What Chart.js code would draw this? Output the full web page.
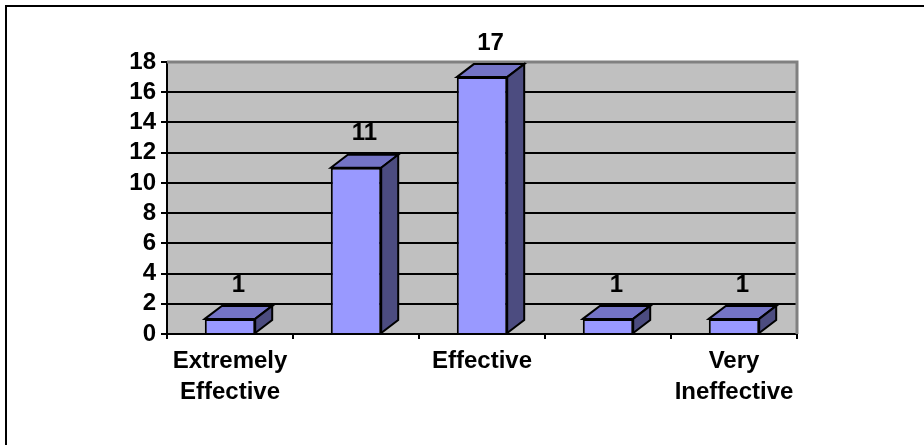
<!DOCTYPE html>
<html>
<head>
<meta charset="utf-8">
<script src="https://cdn.jsdelivr.net/npm/chart.js@4/dist/chart.umd.min.js"></script>
<style>
  html, body { margin: 0; padding: 0; background: #ffffff; }
  #wrap { width: 924px; height: 445px; position: relative; }
</style>
</head>
<body>
<div id="wrap"><canvas id="c" width="924" height="445"></canvas></div>
<script>
// ---- data ----
const categories = ['Extremely Effective', 'Very Effective', 'Effective', 'Ineffective', 'Very Ineffective'];
const responses = [1, 11, 17, 1, 1];
const yTicks = [0, 2, 4, 6, 8, 10, 12, 14, 16, 18];
const labelInterval = 2; // every other category label shown, as in the original

const FONT = { family: '"Liberation Sans", Arial, sans-serif', size: 24, weight: 'bold', lineHeight: 1.3 };
const DEPTH_X = 17, DEPTH_Y = 13;

const framePlugin = {
  id: 'frame',
  beforeDraw(chart) {
    const ctx = chart.ctx, a = chart.chartArea;
    ctx.save();
    ctx.fillStyle = '#ffffff';
    ctx.fillRect(0, 0, chart.width, chart.height);
    ctx.fillStyle = '#000000';
    ctx.fillRect(5, 5, 2, chart.height - 5);
    ctx.fillRect(5, 5, chart.width - 5, 2);
    ctx.fillStyle = '#C0C0C0';
    ctx.fillRect(a.left, a.top, a.right - a.left, a.bottom - a.top);
    ctx.restore();
  },
  beforeDatasetsDraw(chart) {
    const ctx = chart.ctx, a = chart.chartArea;
    ctx.save();
    ctx.strokeStyle = '#808080';
    ctx.lineWidth = 3;
    ctx.beginPath();
    ctx.moveTo(a.left, a.top);
    ctx.lineTo(a.right, a.top);
    ctx.lineTo(a.right, a.bottom);
    ctx.stroke();
    ctx.restore();
  },
  afterDatasetsDraw(chart) {
    const ctx = chart.ctx;
    const meta = chart.getDatasetMeta(0);
    ctx.save();
    ctx.lineWidth = 2;
    ctx.strokeStyle = '#000000';
    ctx.lineJoin = 'miter';
    meta.data.forEach((bar, i) => {
      const p = bar.getProps(['x', 'y', 'base', 'width'], true);
      const l = p.x - p.width / 2, r = p.x + p.width / 2, t = p.y, b = p.base;
      // top face
      ctx.beginPath();
      ctx.moveTo(l, t);
      ctx.lineTo(l + DEPTH_X, t - DEPTH_Y);
      ctx.lineTo(r + DEPTH_X, t - DEPTH_Y);
      ctx.lineTo(r, t);
      ctx.closePath();
      ctx.fillStyle = '#7474C6';
      ctx.fill();
      ctx.stroke();
      // side face
      ctx.beginPath();
      ctx.moveTo(r, t);
      ctx.lineTo(r + DEPTH_X, t - DEPTH_Y);
      ctx.lineTo(r + DEPTH_X, b - DEPTH_Y);
      ctx.lineTo(r, b);
      ctx.closePath();
      ctx.fillStyle = '#4C4C80';
      ctx.fill();
      ctx.stroke();
      // value label
      ctx.fillStyle = '#000000';
      ctx.font = 'bold ' + FONT.size + 'px ' + FONT.family;
      ctx.textAlign = 'center';
      ctx.textBaseline = 'middle';
      ctx.fillText(String(responses[i]), p.x + DEPTH_X / 2, t - DEPTH_Y - 21);
    });
    ctx.restore();
  }
};

new Chart(document.getElementById('c'), {
  type: 'bar',
  data: {
    labels: categories,
    datasets: [{
      data: responses,
      backgroundColor: '#9999FF',
      borderColor: '#000000',
      borderWidth: 2,
      barPercentage: 0.4,
      categoryPercentage: 1.0
    }]
  },
  options: {
    responsive: false,
    animation: false,
    events: [],
    layout: { padding: { left: 0, right: 127, top: 62, bottom: 0 } },
    plugins: { legend: { display: false }, tooltip: { enabled: false }, title: { display: false } },
    scales: {
      x: {
        offset: true,
        afterFit(s) { s.height = 111; },
        grid: { offset: true, drawOnChartArea: false, drawTicks: true, tickLength: 5, color: '#000000', lineWidth: 2 },
        border: { display: true, color: '#000000', width: 2 },
        ticks: {
          autoSkip: false, maxRotation: 0, minRotation: 0, padding: 7,
          color: '#000000', font: FONT,
          callback(value, index) {
            if (index % labelInterval !== 0) return '';
            return categories[index].split(' ');
          }
        }
      },
      y: {
        min: yTicks[0], max: yTicks[yTicks.length - 1],
        afterFit(s) { s.width = 167; },
        afterBuildTicks(s) { s.ticks = yTicks.map(v => ({ value: v })); },
        grid: {
          drawTicks: true, tickLength: 6, lineWidth: 2,
          color: ctx => (ctx.tick && ctx.tick.value === 18 ? '#808080' : '#000000'),
          tickColor: '#000000'
        },
        border: { display: true, color: '#000000', width: 2 },
        ticks: { autoSkip: false, padding: 5, color: '#000000', font: FONT }
      }
    }
  },
  plugins: [framePlugin]
});
</script>
</body>
</html>
